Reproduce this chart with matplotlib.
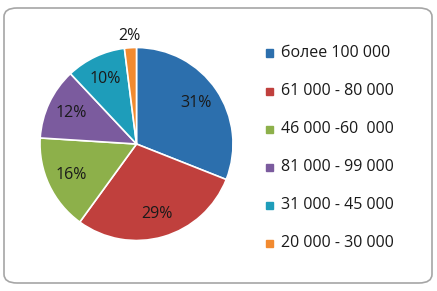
import matplotlib.pyplot as plt
from matplotlib.patches import FancyBboxPatch

labels = ["более 100 000", "61 000 - 80 000", "46 000 -60  000",
          "81 000 - 99 000", "31 000 - 45 000", "20 000 - 30 000"]
shares = [31, 29, 16, 12, 10, 2]
colors = ["#2C6FAD", "#C0403D", "#8DB04A", "#7B5B9E", "#1E9DBA", "#F28A30"]

W, H = 437, 291
fig = plt.figure(figsize=(W / 100, H / 100), dpi=100)

# rounded frame around the chart
frame = FancyBboxPatch((4 / W, 8 / H), 428 / W, 275 / H,
                       boxstyle="round,pad=0,rounding_size=0.03",
                       transform=fig.transFigure, facecolor="none",
                       edgecolor="#A6A6A6", linewidth=1.2, zorder=-1)
fig.patches.append(frame)

cx, cy, r = 136.5, 144, 96.5
ax = fig.add_axes([(cx - r) / W, (H - cy - r) / H, 2 * r / W, 2 * r / H])
wedges, texts, autotexts = ax.pie(
    shares, colors=colors, startangle=90, counterclock=False,
    autopct="%d%%", pctdistance=0.75, radius=1.0,
    wedgeprops=dict(edgecolor="white", linewidth=1.2),
    textprops=dict(fontsize=11.5, color="#1a1a1a", family="Open Sans"))
# the small slice label sits outside the pie
autotexts[-1].set_position((-0.07, 1.12))
ax.set_xlim(-1, 1)
ax.set_ylim(-1, 1)
ax.set_aspect("auto")
ax.axis("off")

y0 = 53
for i, (lab, col) in enumerate(zip(labels, colors)):
    y = y0 + i * 38
    fig.patches.append(plt.Rectangle((266 / W, (H - y - 3.5) / H), 7 / W, 7 / H,
                                     transform=fig.transFigure, color=col))
    fig.text(281 / W, (H - y) / H, lab, fontsize=11.5, family="Open Sans",
             color="#1a1a1a", va="center", ha="left")

fig.savefig("out.png", dpi=100)
